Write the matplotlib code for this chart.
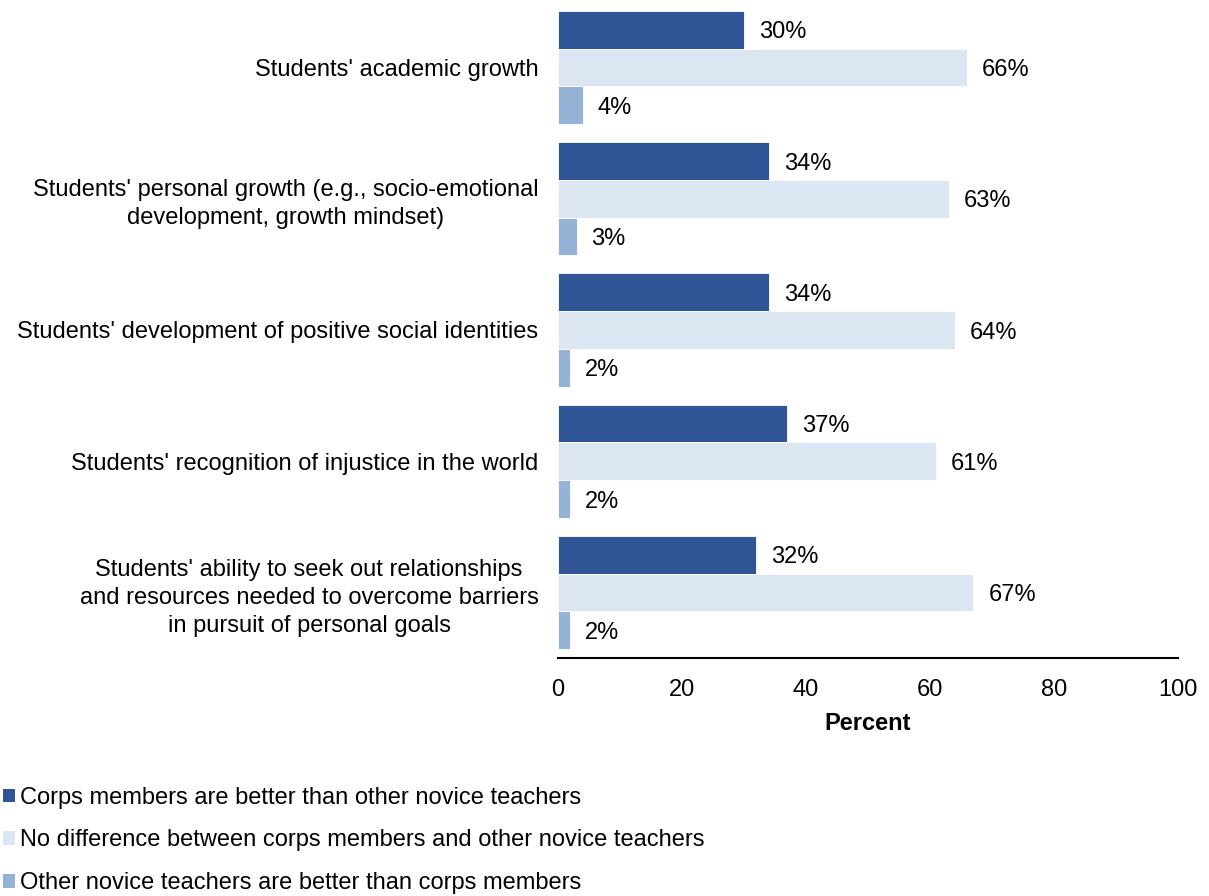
import numpy as np
import matplotlib.pyplot as plt
from matplotlib.patches import Patch

plt.rcParams['font.family'] = ['Liberation Sans', 'DejaVu Sans']

categories = [
    "Students' academic growth",
    "Students' personal growth (e.g., socio-emotional\ndevelopment, growth mindset)",
    "Students' development of positive social identities",
    "Students' recognition of injustice in the world",
    "Students' ability to seek out relationships\nand resources needed to overcome barriers\nin pursuit of personal goals",
]
better = [30, 34, 34, 37, 32]
no_diff = [66, 63, 64, 61, 67]
worse = [4, 3, 2, 2, 2]

series_names = [
    "Corps members are better than other novice teachers",
    "No difference between corps members and other novice teachers",
    "Other novice teachers are better than corps members",
]
colors = ["#2F5597", "#DCE6F2", "#95B3D7"]

fs = 17

fig = plt.figure(figsize=(12.09, 8.96), dpi=100)
ax = fig.add_axes([0.4615, 0.2656, 0.5129, 0.7322])

y = np.arange(len(categories))
h = 0.2875
for k, vals in enumerate([better, no_diff, worse]):
    pos = y + (k - 1) * h
    ax.barh(pos, vals, height=h, color=colors[k], edgecolor="white", linewidth=0.6)
    for p, v in zip(pos, vals):
        ax.text(v + 2.4, p + 0.02, f"{v}%", va="center", ha="left", fontsize=fs)

ax.set_xlim(0, 100)
ax.set_ylim(4.5, -0.5)
ax.set_yticks(y)
ax.set_yticklabels(categories, fontsize=fs, ha="right", multialignment="center",
                   linespacing=1.35)
ax.tick_params(axis="y", length=0, pad=14)
ax.set_xticks([0, 20, 40, 60, 80, 100])
ax.tick_params(axis="x", length=0, labelsize=fs, pad=15)
ax.set_xlabel("Percent", fontsize=fs, fontweight="bold", labelpad=8)
for s in ["top", "right", "left"]:
    ax.spines[s].set_visible(False)
ax.spines["bottom"].set_linewidth(1.5)

handles = [Patch(facecolor=c, edgecolor="none") for c in colors]
fig.legend(handles, series_names, loc="lower left", bbox_to_anchor=(0.0025, 0.002),
           frameon=False, fontsize=fs, handlelength=0.5, handleheight=0.5,
           handletextpad=0.22, labelspacing=0.88, borderpad=0, borderaxespad=0)

fig.savefig("out.png", dpi=100)
